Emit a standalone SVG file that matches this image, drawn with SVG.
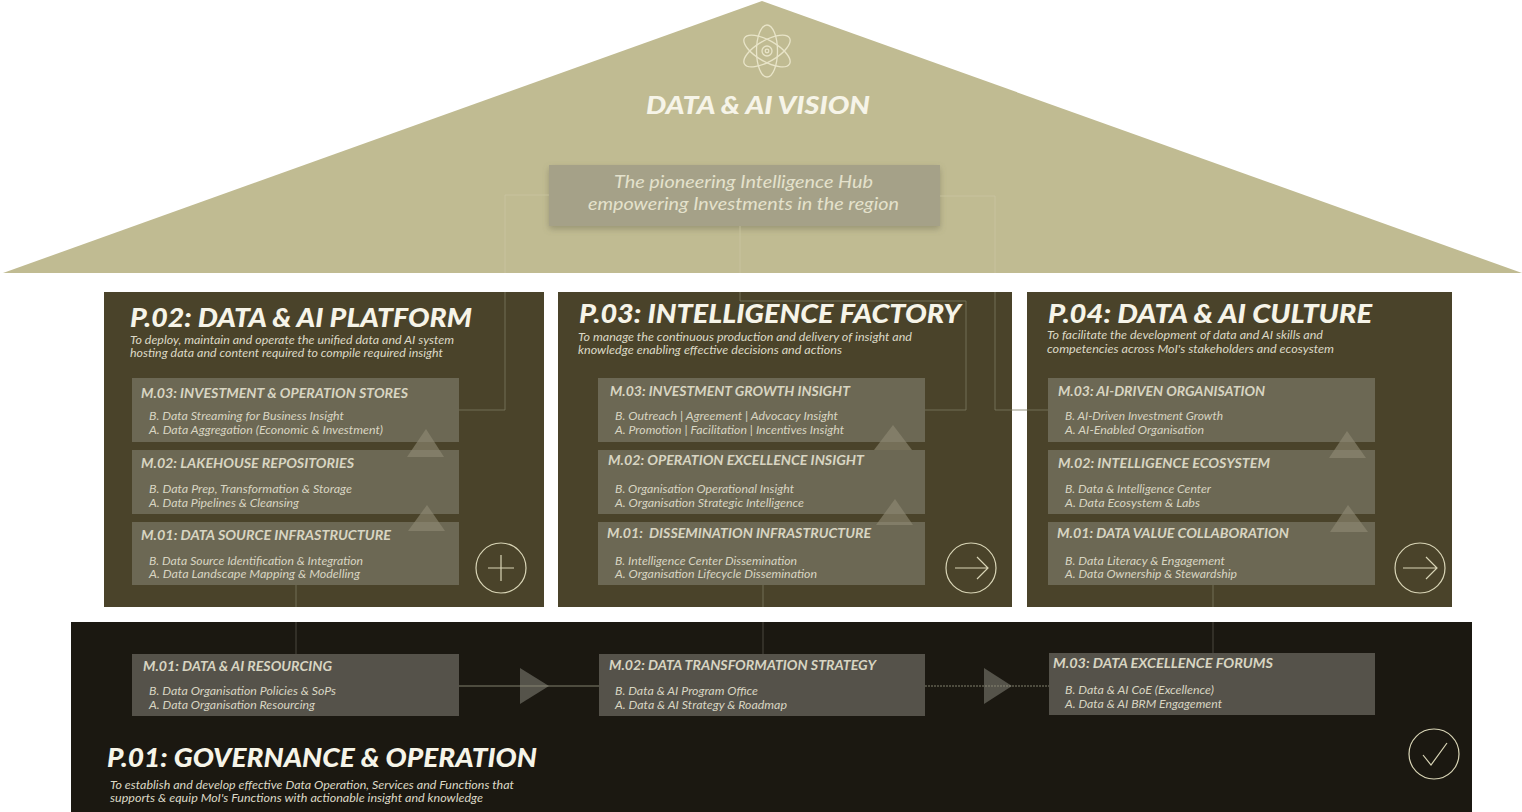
<svg xmlns="http://www.w3.org/2000/svg" width="1522" height="812" viewBox="0 0 1522 812">
<defs>
<filter id="sh" x="-5%" y="-20%" width="110%" height="140%"><feDropShadow dx="0" dy="3" stdDeviation="3" flood-color="#6b6750" flood-opacity=".45"/></filter>
</defs>
<style>
text{font-family:"Lato","Liberation Sans",sans-serif;font-style:italic}
.t{font-size:27px;font-weight:900;fill:#f6f4e8}
.s{font-size:11px;fill:#dcd9c6}
.h{font-size:13px;font-weight:700;fill:#d8d5c2}
.l{font-size:11px;fill:#d8d5c2}
.p{fill:#4a432a}
.m{fill:#6c6854}
.b{fill:#55524a}
.u{fill:#8f8b74;opacity:.62}
.a{fill:#55534a}
.c{fill:none;stroke:#d9d5b6;stroke-width:1.2}
.k{fill:none;stroke:#7c785f;stroke-width:.8}
.n{fill:none;stroke:#56544a;stroke-width:.8}
.r{fill:none;stroke:#cbc7a5;stroke-width:.7}
.d{fill:none;stroke:#8f8c78;stroke-width:.9}
</style>

<g id="vision">
<polygon points="762,1 1522,273 3,273" fill="#c0bb92"/>
<g fill="none" stroke="#e8e4c8" stroke-width="1.3">
<ellipse cx="767" cy="51" rx="10.5" ry="26"/>
<ellipse cx="767" cy="51" rx="10.5" ry="26" transform="rotate(60 767 51)"/>
<ellipse cx="767" cy="51" rx="10.5" ry="26" transform="rotate(-60 767 51)"/>
<circle cx="767" cy="51" r="5"/>
<circle cx="767" cy="51" r="1.8"/>
</g>
<text class="t" x="646" y="114" style="font-size:25px" textLength="224" lengthAdjust="spacingAndGlyphs">DATA &amp; AI VISION</text>
<rect x="549" y="165" width="391" height="61" fill="#a5a188" filter="url(#sh)"/>
<text x="614" y="188" font-size="18" fill="#e4e1cc" textLength="259" lengthAdjust="spacingAndGlyphs">The pioneering Intelligence Hub</text>
<text x="588" y="210" font-size="18" fill="#e4e1cc" textLength="311" lengthAdjust="spacingAndGlyphs">empowering Investments in the region</text>
</g>

<g id="p02">
<rect class="p" x="104" y="292" width="440" height="315"/>
<text class="t" x="130" y="327" textLength="342" lengthAdjust="spacingAndGlyphs">P.02: DATA &amp; AI PLATFORM</text>
<text class="s" x="130" y="344" textLength="324" lengthAdjust="spacingAndGlyphs">To deploy, maintain and operate the unified data and AI system</text>
<text class="s" x="130" y="357" textLength="313" lengthAdjust="spacingAndGlyphs">hosting data and content required to compile required insight</text>
<circle class="c" cx="501" cy="568" r="25"/>
<path class="c" d="M488 568H514M501 555V581"/>
</g>
<g id="p02-m03">
<rect class="m" x="132" y="378" width="327" height="64"/>
<text class="h" x="141" y="398" textLength="267" lengthAdjust="spacingAndGlyphs">M.03: INVESTMENT &amp; OPERATION STORES</text>
<text class="l" x="149" y="420" textLength="195" lengthAdjust="spacingAndGlyphs">B. Data Streaming for Business Insight</text>
<text class="l" x="149" y="434" textLength="234" lengthAdjust="spacingAndGlyphs">A. Data Aggregation (Economic &amp; Investment)</text>
</g>
<g id="p02-m02">
<rect class="m" x="132" y="450" width="327" height="64"/>
<text class="h" x="141" y="468" textLength="213" lengthAdjust="spacingAndGlyphs">M.02: LAKEHOUSE REPOSITORIES</text>
<text class="l" x="149" y="493" textLength="203" lengthAdjust="spacingAndGlyphs">B. Data Prep, Transformation &amp; Storage</text>
<text class="l" x="149" y="507" textLength="150" lengthAdjust="spacingAndGlyphs">A. Data Pipelines &amp; Cleansing</text>
</g>
<g id="p02-m01">
<rect class="m" x="132" y="522" width="327" height="63"/>
<text class="h" x="141" y="540" textLength="250" lengthAdjust="spacingAndGlyphs">M.01: DATA SOURCE INFRASTRUCTURE</text>
<text class="l" x="149" y="565" textLength="214" lengthAdjust="spacingAndGlyphs">B. Data Source Identification &amp; Integration</text>
<text class="l" x="149" y="578" textLength="211" lengthAdjust="spacingAndGlyphs">A. Data Landscape Mapping &amp; Modelling</text>
</g>

<g id="p03">
<rect class="p" x="558" y="292" width="454" height="315"/>
<text class="t" x="579" y="323" textLength="382" lengthAdjust="spacingAndGlyphs">P.03: INTELLIGENCE FACTORY</text>
<text class="s" x="578" y="341" textLength="334" lengthAdjust="spacingAndGlyphs">To manage the continuous production and delivery of insight and</text>
<text class="s" x="578" y="354" textLength="264" lengthAdjust="spacingAndGlyphs">knowledge enabling effective decisions and actions</text>
<circle class="c" cx="971" cy="568" r="25"/>
<path class="c" d="M955 568H988M977 557L988 568L977 579"/>
</g>
<g id="p03-m03">
<rect class="m" x="598" y="378" width="327" height="64"/>
<text class="h" x="610" y="396" textLength="240" lengthAdjust="spacingAndGlyphs">M.03: INVESTMENT GROWTH INSIGHT</text>
<text class="l" x="615" y="420" textLength="223" lengthAdjust="spacingAndGlyphs">B. Outreach | Agreement | Advocacy Insight</text>
<text class="l" x="615" y="434" textLength="229" lengthAdjust="spacingAndGlyphs">A. Promotion | Facilitation | Incentives Insight</text>
</g>
<g id="p03-m02">
<rect class="m" x="598" y="450" width="327" height="64"/>
<text class="h" x="608" y="465" textLength="256" lengthAdjust="spacingAndGlyphs">M.02: OPERATION EXCELLENCE INSIGHT</text>
<text class="l" x="615" y="493" textLength="179" lengthAdjust="spacingAndGlyphs">B. Organisation Operational Insight</text>
<text class="l" x="615" y="507" textLength="189" lengthAdjust="spacingAndGlyphs">A. Organisation Strategic Intelligence</text>
</g>
<g id="p03-m01">
<rect class="m" x="598" y="522" width="327" height="63"/>
<text class="h" x="607" y="538" textLength="264" lengthAdjust="spacingAndGlyphs" xml:space="preserve">M.01:  DISSEMINATION INFRASTRUCTURE</text>
<text class="l" x="615" y="565" textLength="182" lengthAdjust="spacingAndGlyphs">B. Intelligence Center Dissemination</text>
<text class="l" x="615" y="578" textLength="202" lengthAdjust="spacingAndGlyphs">A. Organisation Lifecycle Dissemination</text>
</g>

<g id="p04">
<rect class="p" x="1027" y="292" width="425" height="315"/>
<text class="t" x="1048" y="323" textLength="324" lengthAdjust="spacingAndGlyphs">P.04: DATA &amp; AI CULTURE</text>
<text class="s" x="1047" y="339" textLength="276" lengthAdjust="spacingAndGlyphs">To facilitate the development of data and AI skills and</text>
<text class="s" x="1047" y="353" textLength="287" lengthAdjust="spacingAndGlyphs">competencies across MoI's stakeholders and ecosystem</text>
<circle class="c" cx="1420" cy="568" r="25"/>
<path class="c" d="M1403 568H1437M1426 557L1437 568L1426 579"/>
</g>
<g id="p04-m03">
<rect class="m" x="1048" y="378" width="327" height="64"/>
<text class="h" x="1058" y="396" textLength="207" lengthAdjust="spacingAndGlyphs">M.03: AI-DRIVEN ORGANISATION</text>
<text class="l" x="1065" y="420" textLength="158" lengthAdjust="spacingAndGlyphs">B. AI-Driven Investment Growth</text>
<text class="l" x="1065" y="434" textLength="139" lengthAdjust="spacingAndGlyphs">A. AI-Enabled Organisation</text>
</g>
<g id="p04-m02">
<rect class="m" x="1048" y="450" width="327" height="64"/>
<text class="h" x="1058" y="468" textLength="212" lengthAdjust="spacingAndGlyphs">M.02: INTELLIGENCE ECOSYSTEM</text>
<text class="l" x="1065" y="493" textLength="146" lengthAdjust="spacingAndGlyphs">B. Data &amp; Intelligence Center</text>
<text class="l" x="1065" y="507" textLength="135" lengthAdjust="spacingAndGlyphs">A. Data Ecosystem &amp; Labs</text>
</g>
<g id="p04-m01">
<rect class="m" x="1048" y="522" width="327" height="63"/>
<text class="h" x="1057" y="538" textLength="232" lengthAdjust="spacingAndGlyphs">M.01: DATA VALUE COLLABORATION</text>
<text class="l" x="1065" y="565" textLength="160" lengthAdjust="spacingAndGlyphs">B. Data Literacy &amp; Engagement</text>
<text class="l" x="1065" y="578" textLength="172" lengthAdjust="spacingAndGlyphs">A. Data Ownership &amp; Stewardship</text>
</g>

<g id="p01">
<rect x="71" y="622" width="1401" height="190" fill="#1b1811"/>
<text class="t" x="107" y="767" textLength="430" lengthAdjust="spacingAndGlyphs">P.01: GOVERNANCE &amp; OPERATION</text>
<text class="s" x="110" y="789" textLength="404" lengthAdjust="spacingAndGlyphs">To establish and develop effective Data Operation, Services and Functions that</text>
<text class="s" x="110" y="802" textLength="373" lengthAdjust="spacingAndGlyphs">supports &amp; equip MoI's Functions with actionable  insight and knowledge</text>
<circle class="c" cx="1434" cy="754" r="25"/>
<path class="c" d="M1423 755L1431 765L1447 743"/>
</g>
<g id="p01-m01">
<rect class="b" x="132" y="654" width="327" height="62"/>
<text class="h" x="143" y="671" textLength="189" lengthAdjust="spacingAndGlyphs">M.01: DATA &amp; AI RESOURCING</text>
<text class="l" x="149" y="695" textLength="187" lengthAdjust="spacingAndGlyphs">B. Data Organisation Policies &amp; SoPs</text>
<text class="l" x="149" y="709" textLength="166" lengthAdjust="spacingAndGlyphs">A. Data Organisation Resourcing</text>
</g>
<g id="p01-m02">
<rect class="b" x="599" y="654" width="326" height="62"/>
<text class="h" x="609" y="670" textLength="267" lengthAdjust="spacingAndGlyphs">M.02: DATA TRANSFORMATION STRATEGY</text>
<text class="l" x="615" y="695" textLength="143" lengthAdjust="spacingAndGlyphs">B. Data &amp; AI Program Office</text>
<text class="l" x="615" y="709" textLength="172" lengthAdjust="spacingAndGlyphs">A. Data &amp; AI Strategy &amp; Roadmap</text>
</g>
<g id="p01-m03">
<rect class="b" x="1049" y="653" width="326" height="62"/>
<text class="h" x="1053" y="668" textLength="220" lengthAdjust="spacingAndGlyphs">M.03: DATA EXCELLENCE FORUMS</text>
<text class="l" x="1065" y="694" textLength="149" lengthAdjust="spacingAndGlyphs">B. Data &amp; AI CoE (Excellence)</text>
<text class="l" x="1065" y="708" textLength="157" lengthAdjust="spacingAndGlyphs">A. Data &amp; AI BRM Engagement</text>
</g>

<g id="connectors">
<path class="r" d="M549 195H505V273M940 196H995V273M740 226V273"/>
<path class="k" d="M505 292V410H459M740 292V301H966V410H925M995 292V410H1048M296 585V607M763 585V607M1213 585V607"/>
<path class="n" d="M296 622V654M763 622V654M1213 622V653"/>
<path class="a" d="M520 668L549 686L520 704Z"/>
<path class="a" d="M984 668L1012 686L984 704Z"/>
<path class="d" d="M459 686H599"/>
<path class="d" stroke-dasharray="2 1" d="M925 686H1049"/>
<polygon class="u" points="426,429 444,457 407,457"/>
<polygon class="u" points="427,505 445,531 408,531"/>
<polygon class="u" points="893,425 912,450 874,450"/>
<polygon class="u" points="895,499 913,525 876,525"/>
<polygon class="u" points="1347,431 1366,458 1329,458"/>
<polygon class="u" points="1348,505 1368,532 1330,532"/>
</g>
</svg>
